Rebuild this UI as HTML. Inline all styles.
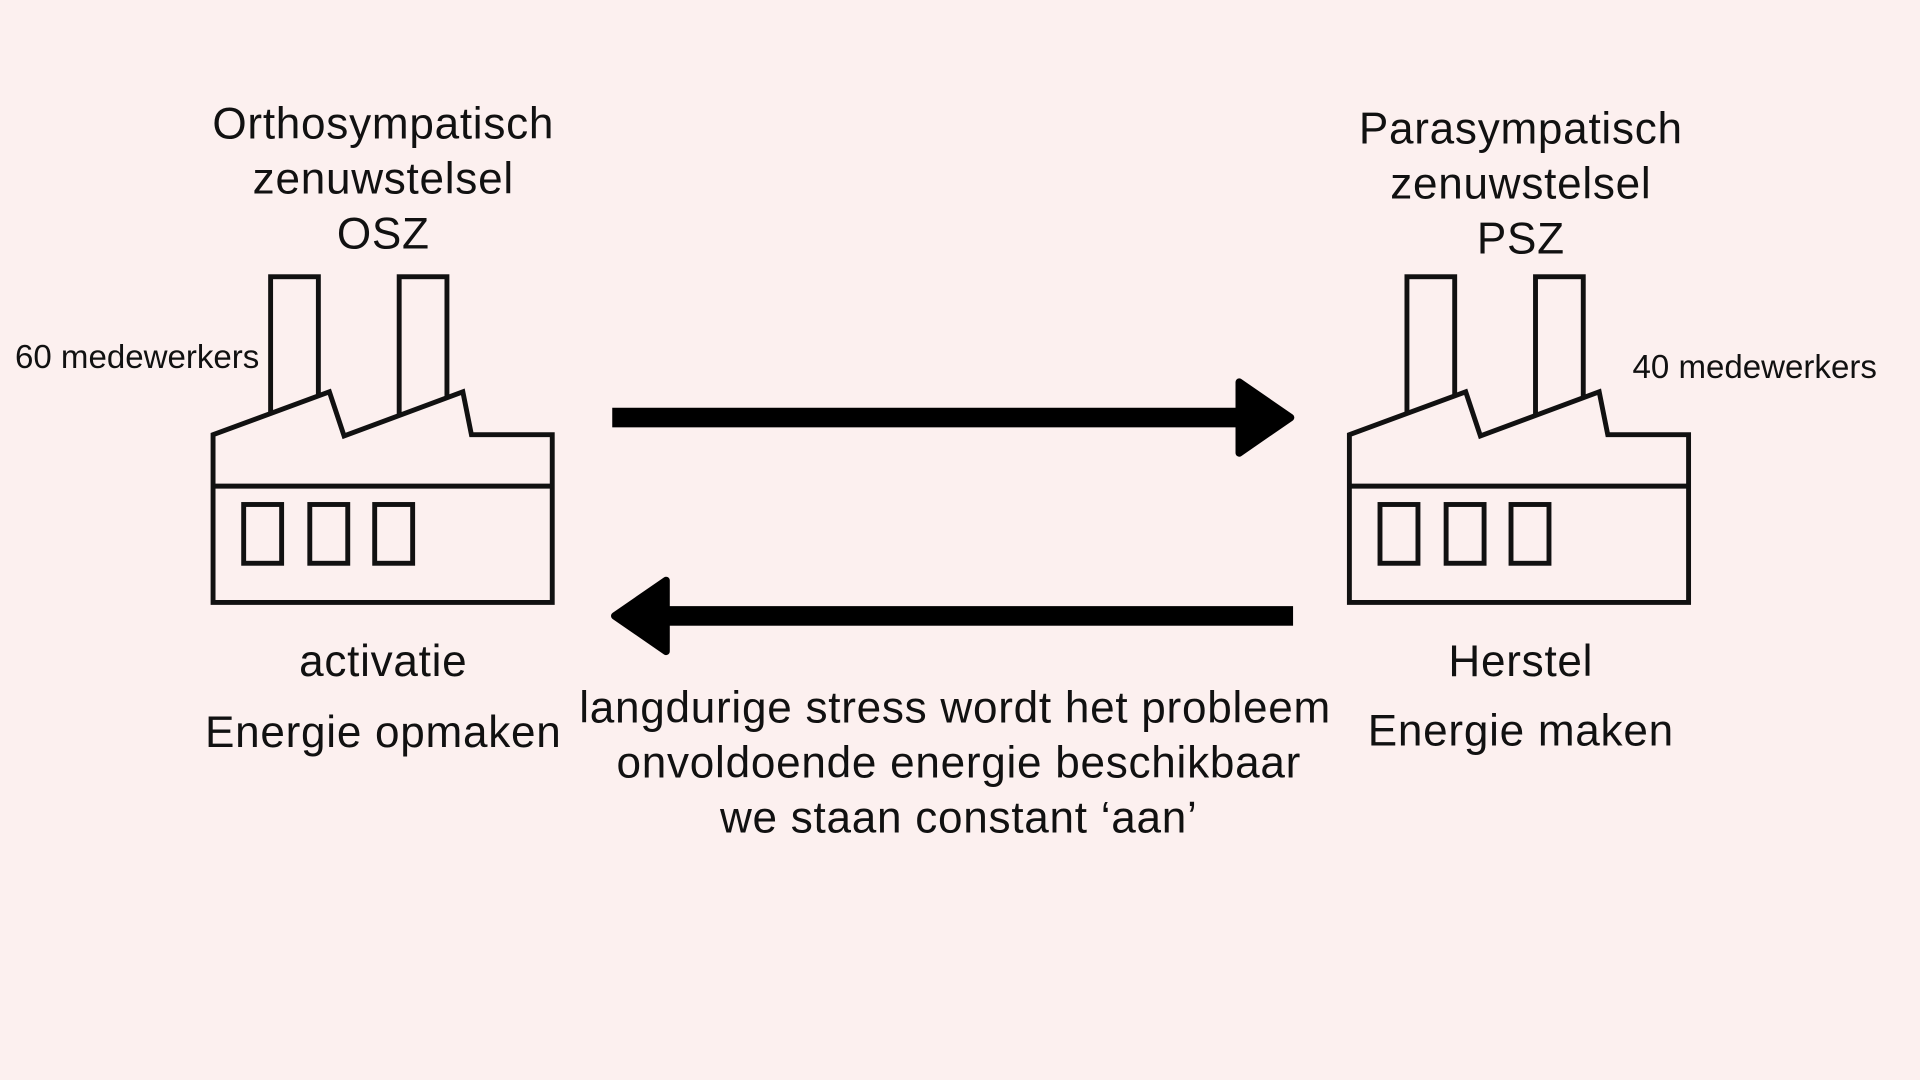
<!DOCTYPE html>
<html><head><meta charset="utf-8"><style>
html,body{margin:0;padding:0;background:#fcf0ef;overflow:hidden}
#w{position:absolute;left:0;top:0;width:1568px;height:882px;transform:scale(1.22449);transform-origin:0 0;background:#fcf0ef}
.t{position:absolute;font-family:"Liberation Sans",sans-serif;color:#111;white-space:nowrap;transform:translate(-50%,-50%);font-size:36px;letter-spacing:0.6px}
.s{font-size:27px;letter-spacing:0}
</style></head><body><div id="w">
<svg width="1568" height="882" style="position:absolute;left:0;top:0">
<g fill="none" stroke="#111" stroke-width="4">
<g id="f">
<rect x="221" y="226" width="39" height="150"/>
<rect x="326" y="226" width="39" height="150"/>
<polygon points="174,355 269,320 281,356 378,320 385,355 451,355 451,492 174,492" fill="#fcf0ef"/>
<line x1="174" y1="397" x2="451" y2="397"/>
<rect x="199" y="412" width="31" height="48"/>
<rect x="253" y="412" width="31" height="48"/>
<rect x="306" y="412" width="31" height="48"/>
</g>
<use href="#f" transform="translate(928,0)"/>
</g>
<g fill="#000" stroke="#000" stroke-linejoin="round" stroke-width="6">
<rect x="500" y="333" width="515" height="16" stroke="none"/>
<polygon points="1012,312 1054,341 1012,370"/>
<rect x="540" y="495" width="516" height="16" stroke="none"/>
<polygon points="544,474 502,503 544,532"/>
</g>
</svg>
<div class="t" style="left:313px;top:101px">Orthosympatisch</div>
<div class="t" style="left:313px;top:146px">zenuwstelsel</div>
<div class="t" style="left:313px;top:191px">OSZ</div>
<div class="t s" style="left:112px;top:292px">60 medewerkers</div>
<div class="t" style="left:1242px;top:105px">Parasympatisch</div>
<div class="t" style="left:1242px;top:150px">zenuwstelsel</div>
<div class="t" style="left:1242px;top:195px">PSZ</div>
<div class="t s" style="left:1433px;top:300px">40 medewerkers</div>
<div class="t" style="left:313px;top:540px">activatie</div>
<div class="t" style="left:313px;top:598px">Energie opmaken</div>
<div class="t" style="left:1242px;top:540px">Herstel</div>
<div class="t" style="left:1242px;top:597px">Energie maken</div>
<div class="t" style="left:780px;top:578px">langdurige stress wordt het probleem</div>
<div class="t" style="left:783px;top:623px">onvoldoende energie beschikbaar</div>
<div class="t" style="left:783px;top:668px">we staan constant ‘aan’</div>
</div></body></html>
